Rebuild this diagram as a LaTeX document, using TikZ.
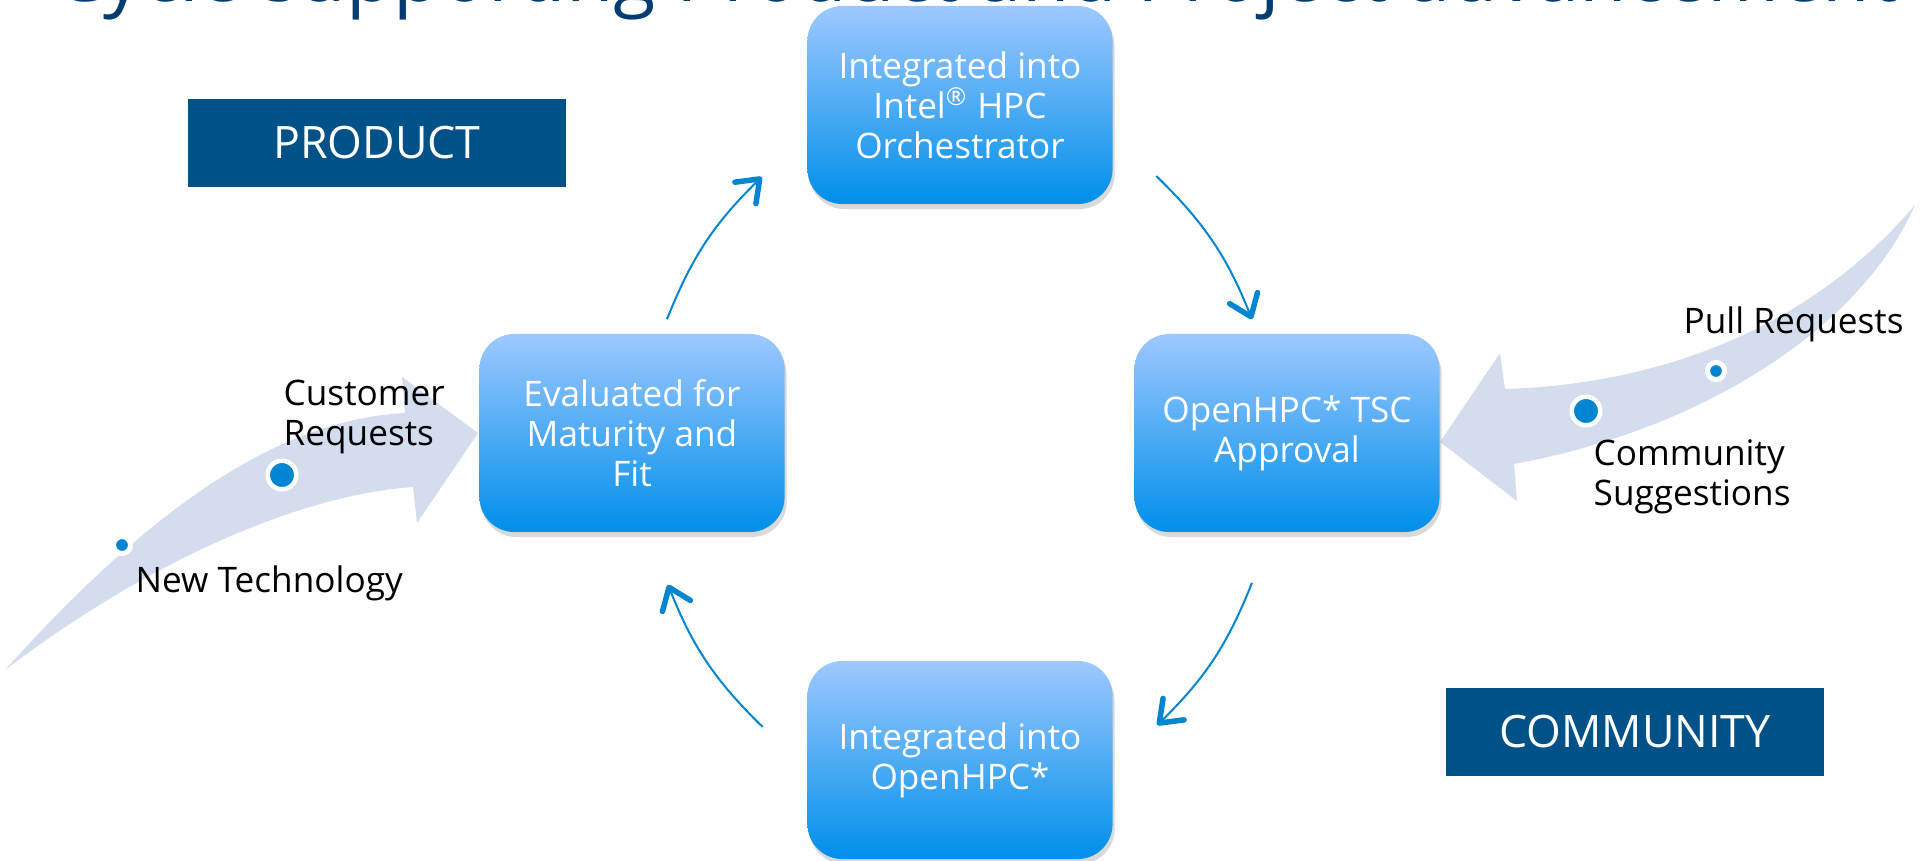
\documentclass[tikz,border=0pt]{standalone}
\usepackage{fontspec}
\setmainfont{Open Sans}
\usetikzlibrary{arrows.meta,shadows,positioning}
\definecolor{boxtop}{RGB}{158,200,255}
\definecolor{boxbot}{RGB}{0,143,234}
\definecolor{sidebg}{RGB}{0,81,135}
\definecolor{cycblue}{RGB}{0,133,208}
\definecolor{bandgrey}{RGB}{212,221,238}
\definecolor{titleblue}{RGB}{0,60,113}
\begin{document}
\begin{tikzpicture}[x=0.01cm,y=-0.01cm,
  stage/.style={rounded corners=0.35cm,minimum width=3.05cm,minimum height=1.98cm,
    top color=boxtop,bottom color=boxbot,text=white,align=center,
    font=\fontsize{10}{11.4}\selectfont,
    drop shadow={shadow xshift=0.02cm,shadow yshift=-0.05cm,opacity=0.3}},
  side/.style={fill=sidebg,text=white,minimum width=3.78cm,minimum height=0.88cm,
    font=\fontsize{12.7}{15}\selectfont},
  cyc/.style={draw=cycblue,line width=0.02cm,
    -{Straight Barb[length=0.2cm,width=0.3cm,line width=0.055cm,round]}},
  band/.style={fill=bandgrey},
  bigdot/.style={circle,fill=cycblue,draw=white,line width=0.045cm,minimum size=0.285cm,inner sep=0},
  smalldot/.style={circle,fill=cycblue,draw=white,line width=0.05cm,minimum size=0.17cm,inner sep=0},
  lbl/.style={font=\fontsize{10}{11.2}\selectfont,align=left,anchor=base west,inner sep=0}]
\useasboundingbox (0,0) rectangle (1920,860);
\clip (0,0) rectangle (1920,860);
\node[font=\fontsize{22}{26}\selectfont,text=titleblue,anchor=base] (title) at (976,1) {Cycle supporting Product and Project advancement};
%% wide arrows
\fill[band] (5,670) .. controls (140,520) and (270,420) .. (405,413) -- (402,377) -- (478,433)
  -- (417,523) -- (413,487) .. controls (300,495) and (150,560) .. (5,670) -- cycle;
\fill[band] (1915,205) .. controls (1860,330) and (1700,430) .. (1514,464) -- (1517,501) -- (1440,442)
  -- (1500,353) -- (1505,389) .. controls (1640,385) and (1800,340) .. (1915,205) -- cycle;
\node[smalldot] (nt) at (122,545) {};
\node[bigdot] (cr) at (282,475) {};
\node[smalldot] (pr) at (1716,371) {};
\node[bigdot] (cs) at (1586,411) {};
\node[lbl] (newtech) at (135,592) {New Technology};
\node[lbl] (custreq) at (283,445) {Customer\\Requests};
\node[lbl] (pullreq) at (1683,333) {Pull Requests};
\node[lbl] (commsug) at (1593,505) {Community\\Suggestions};
%% cycle
\node[stage] (intel) at (960,105) {Integrated into\\Intel\textsuperscript{®} HPC\\Orchestrator};
\node[stage] (eval) at (632,433) {Evaluated for\\Maturity and\\Fit};
\node[stage] (tsc) at (1287,433) {OpenHPC* TSC\\Approval};
\node[stage] (ohpc) at (960,760) {Integrated into\\OpenHPC*};
\draw[cyc] ([shift={(35,-14)}]eval.north) to[bend left=12] ([shift={(-45,72)}]intel.west);
\draw[cyc] ([shift={(43,71)}]intel.east) to[bend left=12] ([shift={(-35,-14)}]tsc.north);
\draw[cyc] ([shift={(-35,50)}]tsc.south) to[bend left=12] ([shift={(44,-35)}]ohpc.east);
\draw[cyc] ([shift={(-44,-33)}]ohpc.west) to[bend left=12] ([shift={(36,52)}]eval.south);
%%%%
\node[side] (product) at (377,143) {PRODUCT};
\node[side] (community) at (1635,732) {COMMUNITY};
\end{tikzpicture}
\end{document}
